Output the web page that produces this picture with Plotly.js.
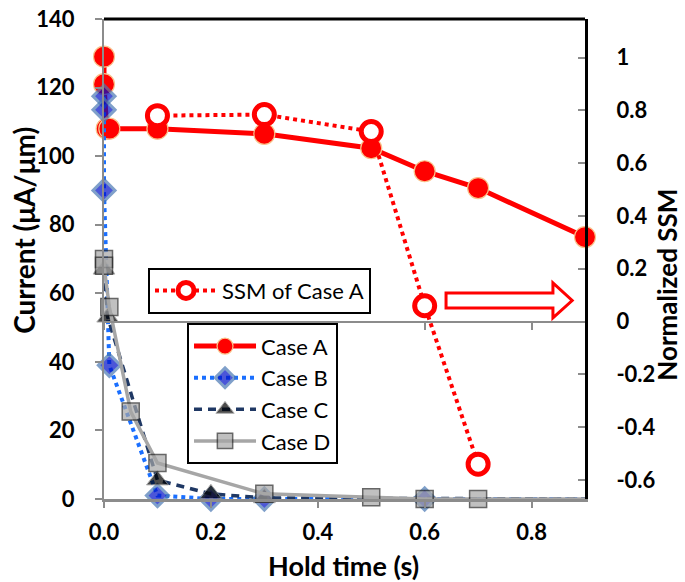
<!DOCTYPE html>
<html>
<head>
<meta charset="utf-8">
<script src="https://cdn.plot.ly/plotly-3.0.1.min.js"></script>
<style>html,body{margin:0;padding:0;background:#fff;}#chart{width:685px;height:582px;}</style>
</head>
<body>
<div id="chart"></div>
<script>
// ---- data ----
const caseA_x = [0, 0, 0.005, 0.01, 0.1, 0.3, 0.5, 0.6, 0.7, 0.9];
const caseA_y = [129, 121, 108, 108, 108, 106.5, 102.3, 95.6, 90.7, 76.4];

const caseB_x = [0, 0, 0, 0.01, 0.1, 0.2, 0.3, 0.6, 0.9];
const caseB_y = [117.5, 113.5, 90, 39, 1, 0, 0, 0, 0];

const caseC_x = [0, 0.007, 0.1, 0.2, 0.3, 0.9];
const caseC_y = [67, 53, 5.5, 1.5, 0.3, 0];

const caseD_x = [0, 0, 0.01, 0.05, 0.1, 0.3, 0.5, 0.6, 0.7, 0.9];
const caseD_y = [70, 68, 56, 25.5, 10.5, 1.5, 0.5, 0, 0, 0];

const ssm_x = [0.1, 0.3, 0.5, 0.6, 0.7];
const ssm_y = [0.78, 0.784, 0.72, 0.06, -0.54];

const xTickVals = [0, 0.2, 0.4, 0.6, 0.8];
const xTickText = ["0.0", "0.2", "0.4", "0.6", "0.8"];
const yTickVals = [0, 20, 40, 60, 80, 100, 120, 140];
const y2TickVals = [-0.6, -0.4, -0.2, 0, 0.2, 0.4, 0.6, 0.8, 1];
const y2TickText = ["-0.6", "-0.4", "-0.2", "0", "0.2", "0.4", "0.6", "0.8", "1"];

// ---- styling ----
const FONT = "Lato, 'Open Sans', sans-serif";
const GRAY = "#8c8c8c";
const xRange = [0, 0.9];
const yRange = [0, 140];
const y2Range = [-0.672, 1.146];
const y2ZeroPos = (0 - y2Range[0]) / (y2Range[1] - y2Range[0]);

// hide the marker of a trailing point that only carries the line to the axis end
function tailHidden(arr, s) { return arr.map((_, i) => (i === arr.length - 1 ? 0 : s)); }

const traces = [
  {
    x: caseA_x, y: caseA_y, name: "Case A", type: "scatter", mode: "lines+markers",
    line: {color: "#ff0000", width: 5},
    marker: {symbol: "circle", size: 21, color: "#ff0000", line: {color: "#f9c38c", width: 1.2}},
    cliponaxis: false, legend: "legend2", legendgroup: "a"
  },
  {
    x: caseB_x, y: caseB_y, name: "Case B", type: "scatter", mode: "lines+markers",
    line: {color: "#1a6fff", width: 4, dash: "dot"},
    marker: {symbol: "diamond", size: tailHidden(caseB_x, 17), color: "#0010c8", line: {color: "#4a78b4", width: 3}},
    cliponaxis: false, legend: "legend2", legendgroup: "b"
  },
  {
    x: caseC_x, y: caseC_y, name: "Case C", type: "scatter", mode: "lines+markers",
    line: {color: "#1f3864", width: 3.5, dash: "8px,6px"},
    marker: {symbol: "triangle-up", size: tailHidden(caseC_x, 19), color: "#000000", line: {color: "#8c8c8c", width: 1}},
    cliponaxis: false, legend: "legend2", legendgroup: "c"
  },
  {
    x: caseD_x, y: caseD_y, name: "Case D", type: "scatter", mode: "lines+markers",
    line: {color: "#a6a6a6", width: 3.5},
    marker: {symbol: "square", size: tailHidden(caseD_x, 17), color: "#a6a6a6", line: {color: "#262626", width: 1.5}},
    cliponaxis: false, legend: "legend2", legendgroup: "d"
  },
  {
    x: ssm_x, y: ssm_y, name: "SSM of Case A", type: "scatter", mode: "lines+markers",
    xaxis: "x2", yaxis: "y2",
    line: {color: "#ff0000", width: 4, dash: "dot"},
    marker: {symbol: "circle", size: 20, color: "#ffffff", line: {color: "#ff0000", width: 5}},
    cliponaxis: false, legend: "legend"
  }
];

const tickFont = {family: FONT, size: 22, color: "#000", weight: 700};
const legendFont = {family: FONT, size: 22, color: "#000"};

const layout = {
  width: 685, height: 582,
  margin: {l: 104, r: 100, t: 19, b: 83},
  paper_bgcolor: "#fff", plot_bgcolor: "#fff",
  showlegend: true,
  xaxis: {
    range: xRange, tickvals: xTickVals, ticktext: xTickText,
    ticks: "outside", ticklen: 6, tickwidth: 2, tickcolor: GRAY,
    showline: true, linecolor: GRAY, linewidth: 3,
    showgrid: false, zeroline: false, tickfont: tickFont, ticklabelstandoff: 6
  },
  yaxis: {
    range: yRange, tickvals: yTickVals,
    ticks: "outside", ticklen: 7, tickwidth: 2, tickcolor: GRAY,
    showline: true, linecolor: GRAY, linewidth: 2,
    showgrid: false, zeroline: false, tickfont: tickFont, ticklabelstandoff: 16
  },
  xaxis2: {
    overlaying: "x", anchor: "free", position: y2ZeroPos, side: "bottom",
    range: xRange, tickvals: xTickVals, showticklabels: false,
    ticks: "outside", ticklen: 7, tickwidth: 2, tickcolor: GRAY,
    showline: true, linecolor: GRAY, linewidth: 2,
    showgrid: false, zeroline: false
  },
  yaxis2: {
    overlaying: "y", side: "right", anchor: "x",
    range: y2Range, tickvals: y2TickVals, ticktext: y2TickText,
    ticks: "inside", ticklen: 7, tickwidth: 2, tickcolor: GRAY,
    showline: true, linecolor: "#000", linewidth: 3,
    showgrid: false, zeroline: false, tickfont: tickFont, ticklabelstandoff: 24
  },
  legend: {
    x: 0.0915, y: 0.482, xanchor: "left", yanchor: "top",
    bgcolor: "#fff", bordercolor: "#000", borderwidth: 2,
    font: legendFont, itemwidth: 62
  },
  legend2: {
    x: 0.1726, y: 0.366, xanchor: "left", yanchor: "top",
    bgcolor: "#fff", bordercolor: "#000", borderwidth: 2,
    font: legendFont, itemwidth: 62, traceorder: "grouped", tracegroupgap: 0
  },
  shapes: [
    {type: "line", xref: "paper", yref: "paper", x0: 0, x1: 1, y0: 1, y1: 1,
     line: {color: "#000", width: 3}},
    {type: "path", xref: "x", yref: "y",
     path: "M0.640,60.1 L0.840,60.1 L0.840,63.0 L0.876,57.9 L0.840,52.8 L0.840,55.7 L0.640,55.7 Z",
     line: {color: "#ff0000", width: 3}, fillcolor: "#fff"}
  ],
  annotations: [
    {text: "Current (μA/μm)", xref: "paper", yref: "paper", x: -0.165, y: 0.56,
     xanchor: "center", yanchor: "middle", textangle: -90, showarrow: false,
     font: {family: FONT, size: 28, color: "#000", weight: 700}},
    {text: "Normalized SSM", xref: "paper", yref: "paper", x: 1.17, y: 0.446,
     xanchor: "center", yanchor: "middle", textangle: -90, showarrow: false,
     font: {family: FONT, size: 26, color: "#000", weight: 700}},
    {text: "Hold time (s)", xref: "paper", yref: "paper", x: 0.497, y: -0.1375,
     xanchor: "center", yanchor: "middle", showarrow: false,
     font: {family: FONT, size: 27, color: "#000", weight: 700}}
  ]
};

Plotly.newPlot("chart", traces, layout, {staticPlot: true, displayModeBar: false});
</script>
</body>
</html>
